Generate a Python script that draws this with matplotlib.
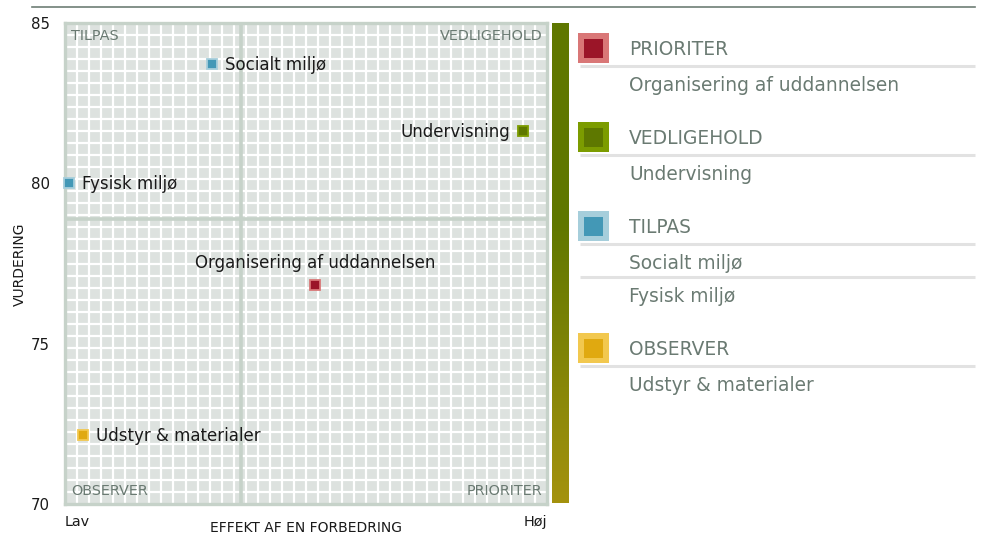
import numpy as np
import matplotlib.pyplot as plt
from matplotlib.colors import LinearSegmentedColormap
from matplotlib.patches import Rectangle

plt.rcParams['font.family'] = ['DejaVu Sans']

# data
names = ['Socialt miljø', 'Undervisning', 'Fysisk miljø',
         'Organisering af uddannelsen', 'Udstyr & materialer']
effekt = [0.305, 0.950, 0.008, 0.519, 0.037]
vurdering = [83.72, 81.63, 80.0, 76.83, 72.15]
kvadrant = ['TILPAS', 'VEDLIGEHOLD', 'TILPAS', 'PRIORITER', 'OBSERVER']
label_side = ['right', 'left', 'right', 'top', 'right']

x_split = 0.365
y_split = 78.9
y_ticks = [70, 75, 80, 85]
x_tick_labels = ['Lav', 'Høj']

legend_order = ['PRIORITER', 'VEDLIGEHOLD', 'TILPAS', 'OBSERVER']
fill_colors = {'PRIORITER': '#9b1528', 'VEDLIGEHOLD': '#5e7800',
               'TILPAS': '#4398b6', 'OBSERVER': '#e0a910'}
edge_colors = {'PRIORITER': '#d97777', 'VEDLIGEHOLD': '#7c9c00',
               'TILPAS': '#a6cedb', 'OBSERVER': '#f2c84f'}

GRID_BG = '#dde2df'
GRID_LINE = '#c6d2c9'
GRAY_TXT = '#6a7a72'

W, H = 988, 534
fig = plt.figure(figsize=(W / 100, H / 100), dpi=100)


def px_axes(x0, y0, x1, y1, **kw):
    return fig.add_axes([x0 / W, 1 - y1 / H, (x1 - x0) / W, (y1 - y0) / H], **kw)


# main quadrant chart
ax = px_axes(65, 23, 547, 504)
ax.set_xlim(0, 1)
ax.set_ylim(70, 85)
ax.set_facecolor(GRID_BG)
ax.set_xticks(np.linspace(0, 1, 41), minor=True)
ax.set_yticks(np.linspace(70, 85, 41), minor=True)
ax.grid(which='minor', color='white', lw=1.6)
ax.grid(which='major', visible=False)
ax.set_axisbelow(True)
ax.tick_params(which='both', length=0)
ax.set_yticks(y_ticks)
ax.tick_params(axis='y', labelsize=10.8, pad=11, labelcolor='#1a1a1a')
ax.set_xticks([0, 1], x_tick_labels)
ax.tick_params(axis='x', labelsize=10.4, pad=8, labelcolor='#1a1a1a')
lbls = ax.get_xticklabels()
lbls[0].set_ha('left')
lbls[1].set_ha('right')
for s in ax.spines.values():
    s.set_color(GRID_LINE)
    s.set_linewidth(2.4)

ax.axvline(x_split, color=GRID_LINE, lw=2.6, zorder=2)
ax.axhline(y_split, color=GRID_LINE, lw=2.6, zorder=2)

corner = [('TILPAS', 0.012, 0.988, 'left', 'top'),
          ('VEDLIGEHOLD', 0.990, 0.988, 'right', 'top'),
          ('OBSERVER', 0.012, 0.012, 'left', 'bottom'),
          ('PRIORITER', 0.990, 0.012, 'right', 'bottom')]
for txt, cx, cy, ha, va in corner:
    ax.text(cx, cy, txt, transform=ax.transAxes, ha=ha, va=va,
            fontsize=10.4, color=GRAY_TXT, zorder=3)

for n, x, y, k, side in zip(names, effekt, vurdering, kvadrant, label_side):
    ax.plot(x, y, marker='s', ms=7.8, mew=1.3, mfc=fill_colors[k],
            mec=edge_colors[k], ls='none', zorder=5, clip_on=False)
    if side == 'right':
        off, ha = (13, -6), 'left'
    elif side == 'left':
        off, ha = (-13, -6), 'right'
    else:
        off, ha = (0, 17), 'center'
    ax.annotate(n, (x, y), xytext=off, textcoords='offset pixels',
                ha=ha, va='baseline', fontsize=12, color='#1a1a1a', zorder=6)

# colour bar on the right of the chart
cax = px_axes(552, 23, 569, 503)
cmap = LinearSegmentedColormap.from_list(
    'bar', [(0, '#5f7700'), (0.41, '#5f7700'), (1, '#a4920e')])
cax.imshow(np.linspace(0, 1, 256).reshape(-1, 1), aspect='auto', cmap=cmap)
cax.axis('off')

# overlay for legend and free text
lax = fig.add_axes([0, 0, 1, 1], zorder=-1)
lax.set_xlim(0, W)
lax.set_ylim(H, 0)
lax.axis('off')
lax.plot([32, 975], [7, 7], color='#6e7e76', lw=1.2)
lax.text(306, 528, 'EFFEKT AF EN FORBEDRING', ha='center', va='center',
         fontsize=10, color='#1a1a1a')
lax.text(20, 264, 'VURDERING', ha='center', va='center', rotation=90,
         fontsize=10, color='#1a1a1a')

y = 48
for group in legend_order:
    members = [n for n, k in zip(names, kvadrant) if k == group]
    lax.add_patch(Rectangle((578, y - 15), 31, 30, color=edge_colors[group], lw=0))
    lax.add_patch(Rectangle((584, y - 9.5), 19, 19, color=fill_colors[group], lw=0))
    lax.text(629, y + 7, group, ha='left', va='baseline', fontsize=13.4, color=GRAY_TXT)
    line_y = y + 18
    for m in members:
        lax.plot([580, 975], [line_y, line_y], color='#e2e2e2', lw=2.2,
                 solid_capstyle='butt')
        item_y = line_y + 18
        lax.text(629, item_y + 7, m, ha='left', va='baseline', fontsize=13.4,
                 color=GRAY_TXT)
        line_y = item_y + 15
    y = item_y + 53

fig.savefig('out.png', dpi=100)
